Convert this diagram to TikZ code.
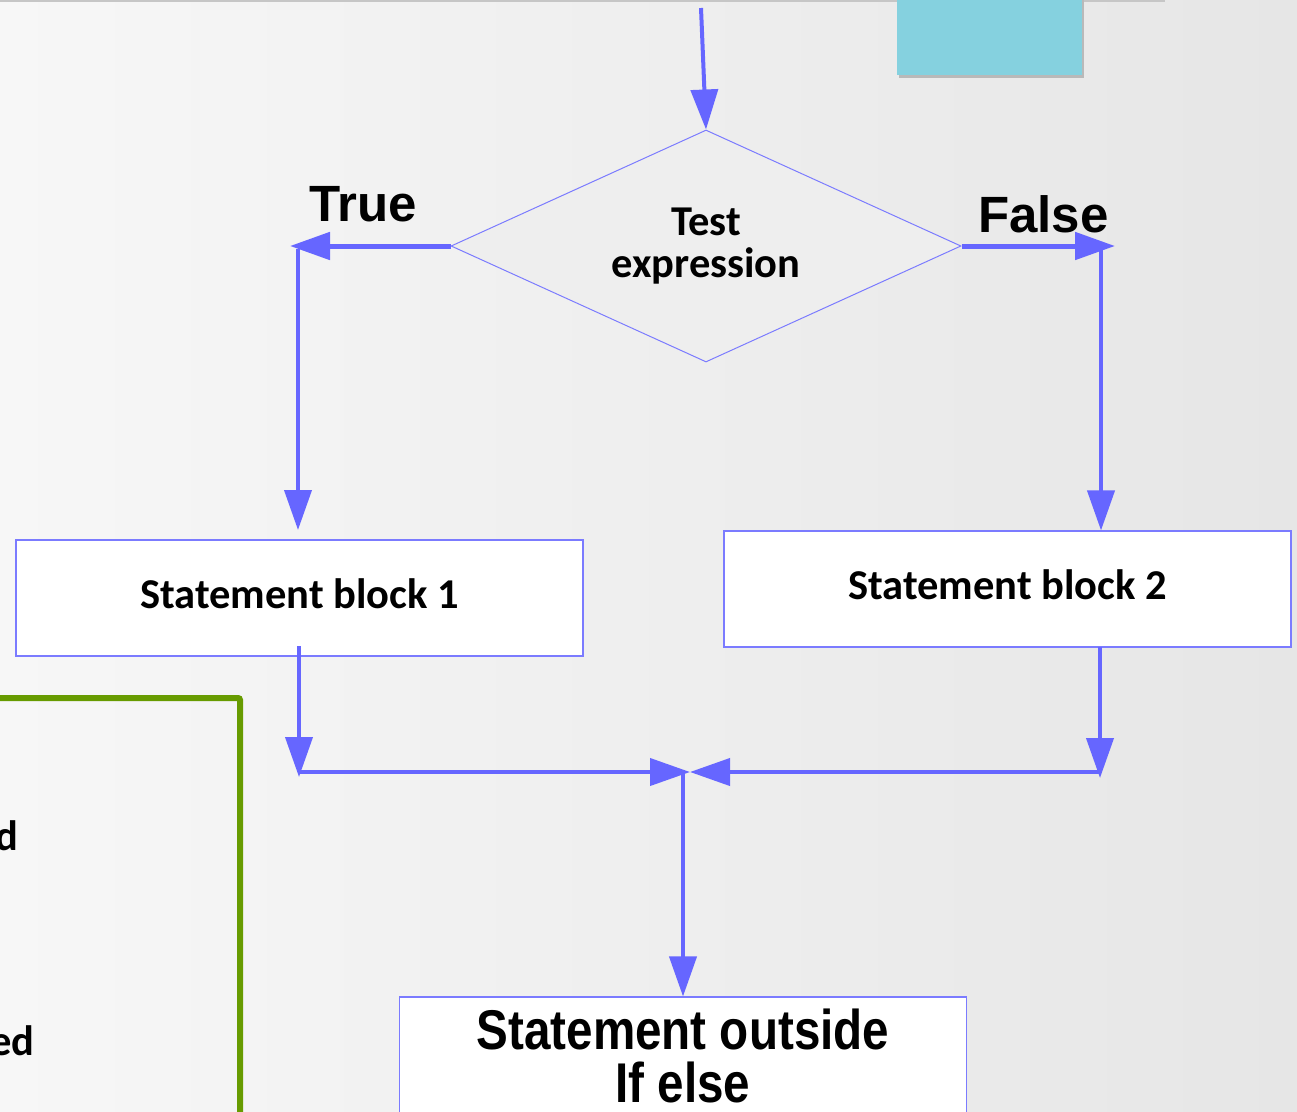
\documentclass[tikz,border=0pt]{standalone}
\usepackage{fontspec}
\setmainfont{Carlito}
\newfontfamily\arialfont{Liberation Sans}
\newfontfamily\narrowfont{Liberation Sans}[FakeStretch=0.85]
\usetikzlibrary{arrows.meta,shapes.geometric}
\definecolor{arrowblue}{HTML}{6666FF}
\definecolor{boxblue}{HTML}{7B7BFF}
\definecolor{diafill}{HTML}{EEEEEE}
\definecolor{cyanbox}{HTML}{85D1DF}
\definecolor{greenline}{HTML}{679B00}
\definecolor{bgleft}{HTML}{F7F7F7}
\definecolor{bgright}{HTML}{E6E6E6}
\tikzset{
  arr/.style={draw=arrowblue, line width=4pt, -{Triangle[length=40pt,width=27pt]}},
  flowbox/.style={draw=boxblue, line width=1.1pt, fill=white, minimum width=567pt, minimum height=116pt, inner sep=0pt},
  decision/.style={shape=diamond, aspect=2.2, draw=boxblue, line width=1pt, fill=diafill, minimum width=510pt, minimum height=232pt, inner sep=0pt, align=center},
  bodytext/.style={font=\bfseries\fontsize{42.5pt}{42pt}\selectfont},
  boxtext/.style={text height=30pt, text depth=10pt},
  branchlabel/.style={font=\arialfont\bfseries\fontsize{51pt}{51pt}\selectfont, inner sep=0pt},
}
\begin{document}
\begin{tikzpicture}[x=1pt,y=-1pt]
\useasboundingbox (0,0) rectangle (1297,1111);
% background
\shade[left color=bgleft, right color=bgright] (0,0) rectangle (1297,1111);
% top shadow line
\draw[gray!45, line width=2.5pt] (0,0.5) -- (1165,0.5);
% cyan rectangle with shadow
\fill[gray!55] (899,0) rectangle (1084,78);
\fill[cyanbox] (897,0) rectangle (1082,75);
% green frame
\draw[greenline, line width=6pt, rounded corners=2pt] (-20,698) -- (240,698) -- (240,1130);
\node[bodytext, anchor=base east, inner sep=0pt] (dtxt) at (19,850) {d};
\node[bodytext, anchor=base east, inner sep=0pt] (edtxt) at (35,1055) {ed};
% nodes
\node[decision, bodytext] (dia) at (706,246) {Test\\expression};
\node[flowbox, bodytext, boxtext] (b1) at (299.5,598) {Statement block 1};
\node[flowbox, bodytext, boxtext] (b2) at (1007.5,589) {Statement block 2};
\node[flowbox, font=\narrowfont\bfseries\fontsize{56pt}{53pt}\selectfont, align=center, minimum height=118pt] (b3) at (683,1056) {Statement outside\\If else};
\node[branchlabel, anchor=base west] (truelbl) at (309,221) {True};
\node[branchlabel, anchor=base west] (falselbl) at (978,232) {False};
% coordinates
\coordinate (start) at (701,8);
\coordinate (tl) at (290,246);
\coordinate (tv) at (298,249);
\coordinate (tvtip) at (298,530);
\coordinate (fr) at (1115,246);
\coordinate (fv) at (1101,249);
\coordinate (l1) at (299,646);
\coordinate (l1tip) at (299,777);
\coordinate (r1) at (1100,647);
\coordinate (r1tip) at (1100,778);
\coordinate (ml) at (299,772);
\coordinate (mr) at (1100,772);
\coordinate (join) at (690,772);
\coordinate (jd) at (683,774);
% connectors
\draw[arr] (start) -- (dia.north);
\draw[arr, line width=5pt] (dia.west) -- (tl);
\draw[arr] (tv) -- (tvtip);
\draw[arr, line width=5pt] (dia.east) -- (fr);
\draw[arr] (fv) -- (fv |- b2.north);
\draw[arr] (l1) -- (l1tip);
\draw[arr] (r1) -- (r1tip);
\draw[arr] (ml) -- (join);
\draw[arr] (mr) -- (join);
\draw[arr] (jd) -- (jd |- b3.north);
\end{tikzpicture}
\end{document}
